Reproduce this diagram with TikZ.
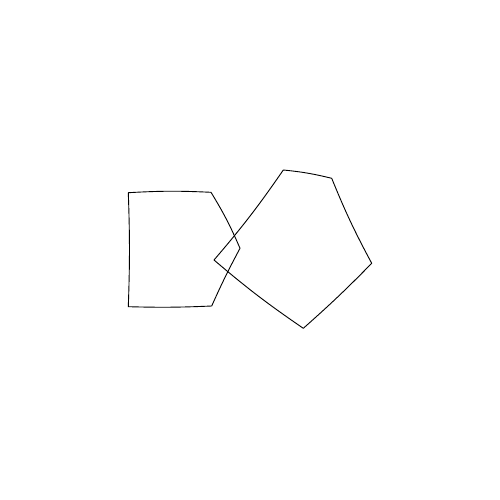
\documentclass[tikz,border=0pt]{standalone}
\begin{document}
\begin{tikzpicture}[x=1pt,y=-1pt,sketch/.style={draw=black,line width=0.9pt,line join=round,line cap=round}]
\useasboundingbox (0,0) rectangle (500,500);
% left pentagon
\coordinate (a1) at (128.3,192.7);
\coordinate (a2) at (211,192.3);
\coordinate (a3) at (240,248.3);
\coordinate (a4) at (211.7,306);
\coordinate (a5) at (128.3,306.7);
\draw[sketch] (a1) to[bend left=3] (a2) to[bend left=4] (a3) to[bend right=2] (a4) to[bend left=2] (a5) to[bend right=2] (a1);
% right pentagon
\coordinate (b1) at (283.3,170);
\coordinate (b2) at (331.7,178.3);
\coordinate (b3) at (371.7,263.3);
\coordinate (b4) at (303.3,328.3);
\coordinate (b5) at (214,260);
\draw[sketch] (b1) to[bend left=4] (b2) to[bend right=3] (b3) to[bend left=2] (b4) to[bend left=3] (b5) to[bend right=3] (b1);
\end{tikzpicture}
\end{document}
